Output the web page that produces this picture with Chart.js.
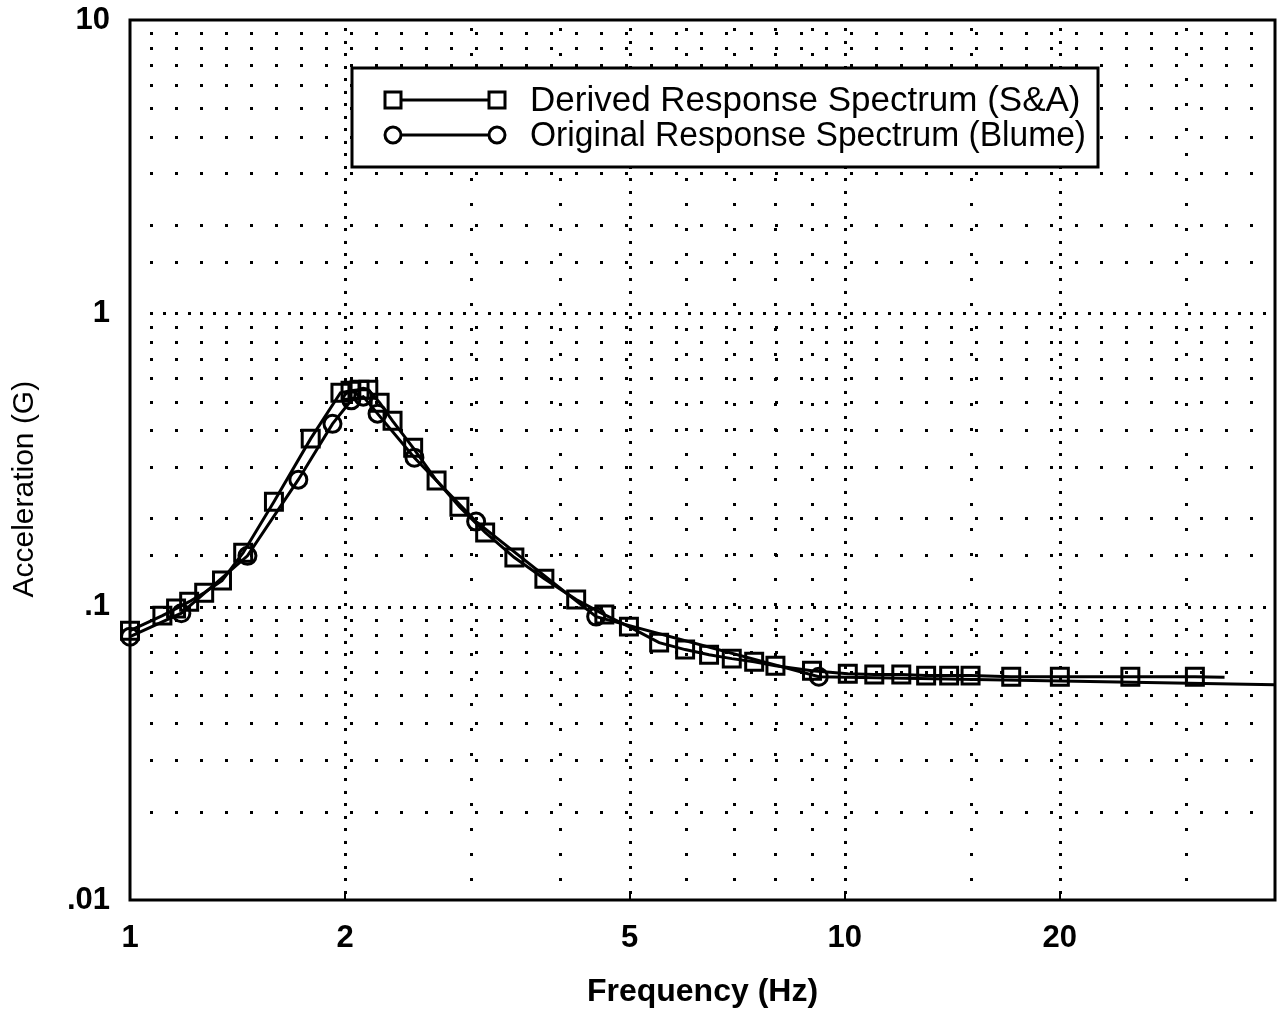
<!DOCTYPE html>
<html>
<head>
<meta charset="utf-8">
<title>Response Spectrum</title>
<script src="https://cdn.jsdelivr.net/npm/chart.js@4.4.1/dist/chart.umd.min.js"></script>
<style>
  html, body { margin: 0; padding: 0; background: #fff; }
  #wrap { width: 1277px; height: 1010px; }
</style>
</head>
<body>
<div id="wrap"><canvas id="spectrumChart" width="1277" height="1010"></canvas></div>
<script>
// Derived response spectrum (S&A) - squares
const derivedFreq = [1.0, 1.11, 1.16, 1.21, 1.27, 1.345, 1.44, 1.59, 1.79, 1.97, 2.035, 2.095, 2.155, 2.235, 2.33, 2.49, 2.685, 2.89, 3.14, 3.45, 3.8, 4.21, 4.61, 4.99, 5.5, 5.98, 6.46, 6.95, 7.47, 8.0, 9.0, 10.1, 11.0, 12.0, 13.0, 14.0, 15.0, 17.1, 20.0, 25.1, 30.9, 34.0];
const derivedAccel = [0.0828, 0.0932, 0.0985, 0.104, 0.1116, 0.1227, 0.1528, 0.228, 0.374, 0.536, 0.545, 0.549, 0.549, 0.496, 0.43, 0.348, 0.269, 0.219, 0.179, 0.147, 0.1246, 0.1057, 0.094, 0.0855, 0.0754, 0.0714, 0.0686, 0.0665, 0.0649, 0.0629, 0.0605, 0.0591, 0.0587, 0.0587, 0.0582, 0.0582, 0.0582, 0.0577, 0.0577, 0.0577, 0.0577, 0.0575];

// Original response spectrum (Blume) - circles
const blumeFreq = [1.0, 1.18, 1.46, 1.72, 1.92, 2.04, 2.12, 2.22, 2.5, 3.05, 4.49, 9.2, 40];
const blumeAccel = [0.079, 0.095, 0.149, 0.271, 0.42, 0.505, 0.52, 0.455, 0.322, 0.195, 0.0925, 0.0577, 0.0542];

// Tick labels
const xTickValues = [1, 2, 5, 10, 20];
const xTickLabels = ['1', '2', '5', '10', '20'];
const yTickValues = [0.01, 0.1, 1, 10];
const yTickLabels = ['.01', '.1', '1', '10'];

const seriesLabels = ['Derived Response Spectrum (S&A)', 'Original Response Spectrum (Blume)'];

const FONT = '"Liberation Sans", Arial, Helvetica, sans-serif';

function toPoints(xs, ys) {
    return xs.map((x, i) => ({ x: x, y: ys[i] }));
}

function findLabel(value, vals, labels) {
    for (let i = 0; i < vals.length; i++) {
        if (Math.abs(Math.log10(value) - Math.log10(vals[i])) < 1e-6) return labels[i];
    }
    return '';
}

function isMajor(value, vals) {
    return vals.some(v => Math.abs(Math.log10(value) - Math.log10(v)) < 1e-6);
}

// dotted grid, like the old plotter output
const dotGrid = {
    id: 'dotGrid',
    beforeDatasetsDraw(chart) {
        const { ctx, chartArea: a, scales } = chart;
        ctx.save();
        ctx.fillStyle = '#000';
        // vertical lines
        scales.x.ticks.forEach(t => {
            const px = Math.round(scales.x.getPixelForValue(t.value));
            if (px <= a.left + 2 || px >= a.right - 2) return;
            const step = isMajor(t.value, [2, 5, 10, 20]) ? 12.5 : 25;
            for (let y = a.top + 8; y < a.bottom - 2; y += step) {
                ctx.fillRect(px - 1, Math.round(y), 3, 3);
            }
        });
        // horizontal lines
        scales.y.ticks.forEach(t => {
            const py = Math.round(scales.y.getPixelForValue(t.value));
            if (py <= a.top + 2 || py >= a.bottom - 2) return;
            const step = isMajor(t.value, [0.1, 1]) ? 12.5 : 25;
            for (let x = a.left + 20; x < a.right - 2; x += step) {
                ctx.fillRect(Math.round(x), py - 1, 3, 3);
            }
        });
        // small tick marks at labelled frequencies
        ctx.strokeStyle = '#000';
        ctx.lineWidth = 2;
        xTickValues.slice(1).forEach(v => {
            const px = Math.round(scales.x.getPixelForValue(v));
            ctx.beginPath();
            ctx.moveTo(px, a.bottom);
            ctx.lineTo(px, a.bottom - 8);
            ctx.stroke();
        });
        ctx.restore();
    },
    afterDatasetsDraw(chart) {
        const { ctx, chartArea: a } = chart;
        ctx.save();
        ctx.strokeStyle = '#000';
        ctx.lineWidth = 3;
        ctx.strokeRect(a.left, a.top, a.right - a.left, a.bottom - a.top);
        ctx.restore();
    }
};

// boxed legend with marker-line-marker samples
const boxLegend = {
    id: 'boxLegend',
    afterDraw(chart) {
        const { ctx, chartArea: a } = chart;
        const left = a.left + 222, top = a.top + 48, w = 746, h = 99;
        ctx.save();
        ctx.fillStyle = '#fff';
        ctx.fillRect(left, top, w, h);
        ctx.strokeStyle = '#000';
        ctx.lineWidth = 3;
        ctx.strokeRect(left, top, w, h);
        chart.data.datasets.forEach((ds, i) => {
            const y = top + 32 + i * 35;
            const x1 = left + 41, x2 = left + 145;
            ctx.lineWidth = 3;
            ctx.beginPath();
            ctx.moveTo(x1, y);
            ctx.lineTo(x2, y);
            ctx.stroke();
            [x1, x2].forEach(x => {
                ctx.beginPath();
                if (ds.pointStyle === 'rect') {
                    ctx.rect(x - 8, y - 8, 16, 16);
                } else {
                    ctx.arc(x, y, 8, 0, Math.PI * 2);
                }
                ctx.fillStyle = '#fff';
                ctx.fill();
                ctx.stroke();
            });
            ctx.fillStyle = '#000';
            ctx.font = '35px ' + FONT;
            ctx.textAlign = 'left';
            ctx.textBaseline = 'middle';
            ctx.fillText(ds.label, left + 178, y + 1, 556);
        });
        ctx.restore();
    }
};

const ctx = document.getElementById('spectrumChart').getContext('2d');
const spectrumChart = new Chart(ctx, {
    type: 'line',
    data: {
        datasets: [{
            label: seriesLabels[0],
            data: toPoints(derivedFreq, derivedAccel),
            borderColor: '#000',
            borderWidth: 3,
            backgroundColor: 'rgba(0,0,0,0)',
            pointStyle: 'rect',
            pointRadius: c => (c.dataIndex === derivedFreq.length - 1 ? 0 : 12),
            pointBorderWidth: 3,
            pointBorderColor: '#000',
            pointBackgroundColor: 'rgba(0,0,0,0)',
            tension: 0,
            clip: false
        }, {
            label: seriesLabels[1],
            data: toPoints(blumeFreq, blumeAccel),
            borderColor: '#000',
            borderWidth: 3,
            backgroundColor: 'rgba(0,0,0,0)',
            pointStyle: 'circle',
            pointRadius: c => (c.dataIndex === blumeFreq.length - 1 ? 0 : 8.5),
            pointBorderWidth: 3,
            pointBorderColor: '#000',
            pointBackgroundColor: 'rgba(0,0,0,0)',
            tension: 0,
            clip: false
        }]
    },
    options: {
        responsive: false,
        animation: false,
        layout: { autoPadding: false, padding: { top: 20, right: 2, left: 0, bottom: 0 } },
        plugins: {
            legend: { display: false },
            tooltip: { enabled: false }
        },
        scales: {
            x: {
                type: 'logarithmic',
                min: 1,
                max: 40,
                grid: { display: false },
                border: { display: false },
                ticks: {
                    autoSkip: false,
                    maxRotation: 0,
                    padding: 12,
                    color: '#000',
                    font: { family: FONT, size: 31, weight: 'bold' },
                    callback: v => findLabel(v, xTickValues, xTickLabels)
                },
                title: {
                    display: true,
                    text: 'Frequency (Hz)',
                    color: '#000',
                    font: { family: FONT, size: 32, weight: 'bold', lineHeight: 1 },
                    padding: { top: 0, bottom: 2 }
                },
                afterFit: s => {
                    s.height = 110;
                    s.paddingLeft = 0;
                    s.paddingRight = 0;
                }
            },
            y: {
                type: 'logarithmic',
                min: 0.01,
                max: 10,
                grid: { display: false },
                border: { display: false },
                ticks: {
                    autoSkip: false,
                    padding: 12,
                    color: '#000',
                    font: { family: FONT, size: 31, weight: 'bold' },
                    callback: v => findLabel(v, yTickValues, yTickLabels)
                },
                title: {
                    display: true,
                    // trailing spaces push the visible text a little below centre, as in the original
                    text: 'Acceleration (G)       ',
                    color: '#000',
                    font: { family: FONT, size: 30, lineHeight: 1 },
                    padding: { top: 10, bottom: 0 }
                },
                afterFit: s => {
                    s.width = 130;
                    s.paddingTop = 0;
                    s.paddingBottom = 0;
                }
            }
        }
    },
    plugins: [dotGrid, boxLegend]
});
</script>
</body>
</html>
